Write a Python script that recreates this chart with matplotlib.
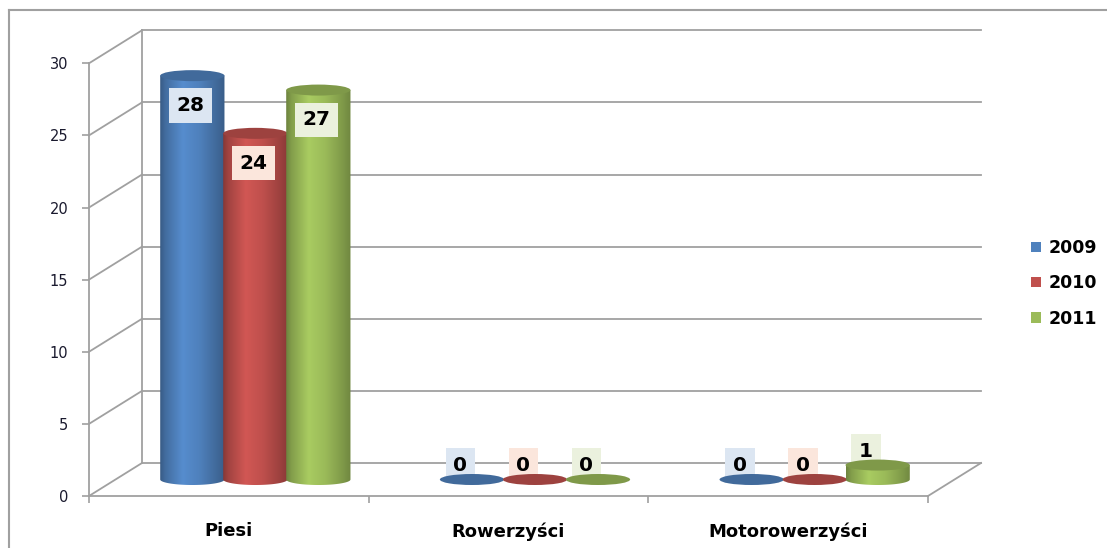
import numpy as np
import matplotlib
matplotlib.use("Agg")
import matplotlib.pyplot as plt
from matplotlib.patches import Ellipse, PathPatch, Patch
from matplotlib.path import Path
from matplotlib.lines import Line2D

# ---- data ----
categories = ["Piesi", "Rowerzyści", "Motorowerzyści"]
years = ["2009", "2010", "2011"]
values_2009 = [28, 0, 0]
values_2010 = [24, 0, 0]
values_2011 = [27, 0, 1]
y_ticks = [0, 5, 10, 15, 20, 25, 30]

series = [values_2009, values_2010, values_2011]

# ---- styling ----
base_colors = [(79, 129, 189), (192, 80, 77), (155, 187, 89)]
top_colors = ["#416a9b", "#9d423f", "#7f9949"]
label_boxes = ["#dce6f2", "#fbe6dc", "#ebf1de"]
grid_color = "#a0a0a0"

plt.rcParams["font.family"] = ["DejaVu Sans"]

W, H, DPI = 1107, 548, 100
fig = plt.figure(figsize=(W / DPI, H / DPI), dpi=DPI, facecolor="white")

# front plane of the chart box (pixels)
left_px, right_px, zero_px, top_px = 89, 928, 496, 63.3
ax = fig.add_axes([left_px / W, (H - zero_px) / H,
                   (right_px - left_px) / W, (zero_px - top_px) / H])
ax.set_xlim(0, 3)
ax.set_ylim(0, 30)
ax.patch.set_visible(False)

px_x = (right_px - left_px) / 3.0
px_y = (zero_px - top_px) / 30.0
DX = 53 / px_x          # depth offset in x units
DY = 33 / px_y          # depth offset in value units
BW = 63 / px_x          # spacing between cylinders
RX = BW / 2 * 1.02
RY = 5.5 / px_y

# ---- walls and floor ----
lk = dict(color=grid_color, lw=1.3, clip_on=False, zorder=1)
for v in y_ticks:
    ax.plot([0, DX], [v, v + DY], **lk)
    ax.plot([DX, 3 + DX], [v + DY, v + DY], **lk)
ax.plot([DX, DX], [DY, 30 + DY], **lk)
ax.plot([3, 3 + DX], [0, DY], **lk)

for side in ["top", "right"]:
    ax.spines[side].set_visible(False)
for side in ["left", "bottom"]:
    ax.spines[side].set_color(grid_color)
    ax.spines[side].set_linewidth(1.3)

ax.set_yticks(y_ticks)
ax.tick_params(axis="y", direction="out", length=5, width=1.2,
               color=grid_color, pad=10, labelsize=10.5, labelcolor="#1a1a2e")
ax.set_xticks([0.5, 1.5, 2.5])
ax.set_xticklabels(categories, fontsize=13, fontweight="bold")
ax.tick_params(axis="x", which="major", length=0, pad=19)
ax.set_xticks([0, 1, 2, 3], minor=True)
ax.tick_params(axis="x", which="minor", direction="out", length=5,
               width=1.2, color=grid_color)

# ---- cylinders ----
profile_t = [0.0, 0.08, 0.35, 0.62, 0.9, 1.0]
profile_f = [0.70, 0.84, 1.09, 0.99, 0.80, 0.72]
t = np.linspace(0, 1, 200)
shade = np.interp(t, profile_t, profile_f)

base_y = DY / 2
for j, vals in enumerate(series):
    rgb = np.array(base_colors[j]) / 255.0
    grad = np.clip(shade[:, None] * rgb[None, :], 0, 1)[None, :, :]
    for i, v in enumerate(vals):
        xc = i + 0.5 + (j - 1) * BW + DX / 2
        top = base_y + v
        z = 3 + j * 0.1 + i
        if v > 0:
            ang = np.linspace(np.pi, 2 * np.pi, 60)
            xs = np.concatenate([[xc - RX, xc - RX], xc + RX * np.cos(ang), [xc + RX, xc + RX]])
            ys = np.concatenate([[top, base_y], base_y + RY * np.sin(ang), [base_y, top]])
            verts = np.column_stack([xs, ys])
            clip = PathPatch(Path(np.vstack([verts, verts[:1]]), closed=True),
                             transform=ax.transData, facecolor="none", edgecolor="none")
            im = ax.imshow(grad, extent=[xc - RX, xc + RX, base_y - RY, top],
                           aspect="auto", interpolation="bilinear", zorder=z)
            im.set_clip_path(clip)
        ax.add_patch(Ellipse((xc, top), 2 * RX, 2 * RY, facecolor=top_colors[j],
                             edgecolor="none", zorder=z + 0.05))

        # value label
        if v >= 3:
            off, lz = (-1.5, -21.5), 10
        else:
            off, lz = (-8.5, 10), z - 0.5
        ax.annotate(f"{v}", (xc, top), xytext=off, textcoords="offset points",
                    ha="center", va="center", fontsize=14.5, fontweight="bold",
                    color="black", zorder=lz,
                    bbox=dict(boxstyle="square,pad=0.38", facecolor=label_boxes[j],
                              edgecolor="none"))

ax.set_xlim(0, 3)
ax.set_ylim(0, 30)

# ---- legend ----
handles = [Patch(facecolor=np.array(c) / 255.0, edgecolor="none") for c in base_colors]
ax.legend(handles, years, loc="upper left",
          bbox_to_anchor=(1031 / W, 1 - 239 / H), bbox_transform=fig.transFigure,
          frameon=False, prop=dict(weight="bold", size=12.5),
          handlelength=0.55, handleheight=0.55, handletextpad=0.45,
          labelspacing=1.0, borderpad=0, borderaxespad=0)

# ---- chart border ----
fig.add_artist(Line2D([9 / W, 1], [1 - 10 / H, 1 - 10 / H], color="#a0a0a0", lw=1.5))
fig.add_artist(Line2D([9 / W, 9 / W], [0, 1 - 10 / H], color="#a0a0a0", lw=1.5))

fig.savefig("out.png", dpi=DPI, facecolor="white")
